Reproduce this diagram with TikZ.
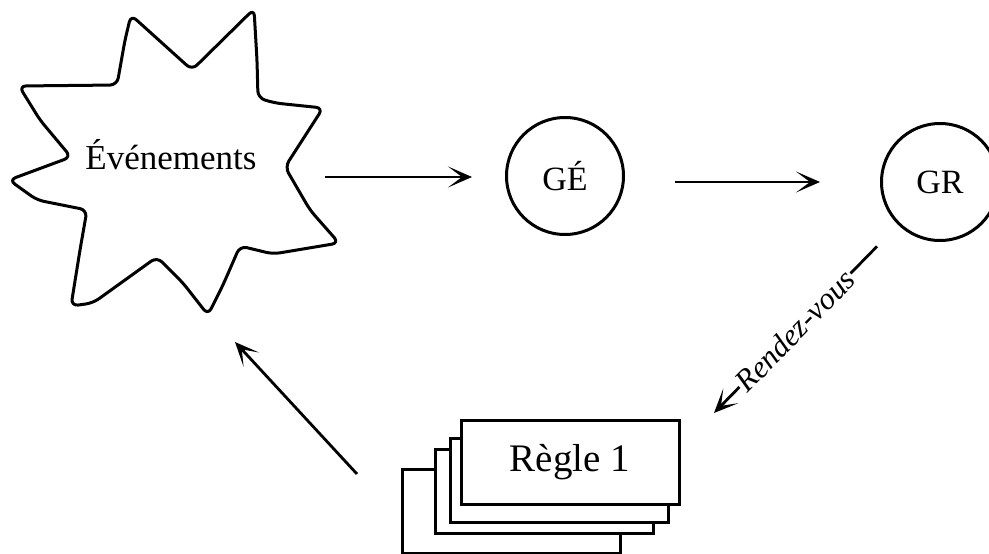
\documentclass[tikz,border=0pt]{standalone}
\usepackage{fontspec}
\setmainfont{Liberation Serif}
\usetikzlibrary{arrows.meta}

\begin{document}
\begin{tikzpicture}[x=1pt, y=-1pt, line width=3pt,
  arr/.style={-{Stealth[length=24pt, width=21pt, inset=14pt]}, line width=2.8pt},
  etat/.style={circle, draw, minimum size=117pt, inner sep=0pt, font=\fontsize{34}{40}\selectfont},
  regle/.style={rectangle, draw, fill=white, minimum width=218pt, minimum height=84pt, font=\fontsize{39}{46}\selectfont}]
  \useasboundingbox (0,0) rectangle (989,554);

  % Draw the star of events
  \draw[line join=round, rounded corners=7pt]
    (131,15) -- (192,70) -- (254,9) -- (257,60) -- (258,98) -- (275,103)
    -- (323,108) -- (285,167) -- (310,210) -- (339,243) -- (273,254)
    -- (240,246) -- (223,285) -- (208,315) -- (183,283) -- (157,257)
    -- (93,303) -- (71,306) -- (80,250) -- (87,210) -- (37,200) -- (9,180)
    -- (71,157) -- (40,120) -- (19,86) -- (117,85) -- (125,40) -- cycle;
  \node[font=\fontsize{35}{42}\selectfont] (evt) at (171,155) {Événements};

  % Define the two circles
  \node[etat] (ge) at (565,176) {GÉ};
  \node[etat] (gr) at (940,182) {GR};

  % Stack of rules, back to front
  \node[regle] (r3) at (511,511) {};
  \node[regle] (r2) at (544,491) {};
  \node[regle] (r1) at (559,480) {};
  \node[regle] (r0) at (570,462.5) {Règle 1};

  % Free ends of the arrows
  \coordinate (evtOut) at (325,177);
  \coordinate (evtIn) at (235,342);
  \coordinate (rgOut) at (357,474);
  \coordinate (rgIn) at (714,413);

  % Draw the arrows
  \draw[arr, shorten >=33pt] (evtOut) -- (ge.west |- evtOut);
  \draw[arr, shorten <=50pt, shorten >=60pt] (ge.east |- gr) -- (gr.west);
  \draw[arr, shorten <=30pt] (gr) -- node[pos=0.56, sloped, fill=white, inner sep=1pt,
    font=\itshape\fontsize{31}{36}\selectfont] {Rendez-vous} (rgIn);
  \draw[arr] (rgOut) -- (evtIn);
\end{tikzpicture}
\end{document}
